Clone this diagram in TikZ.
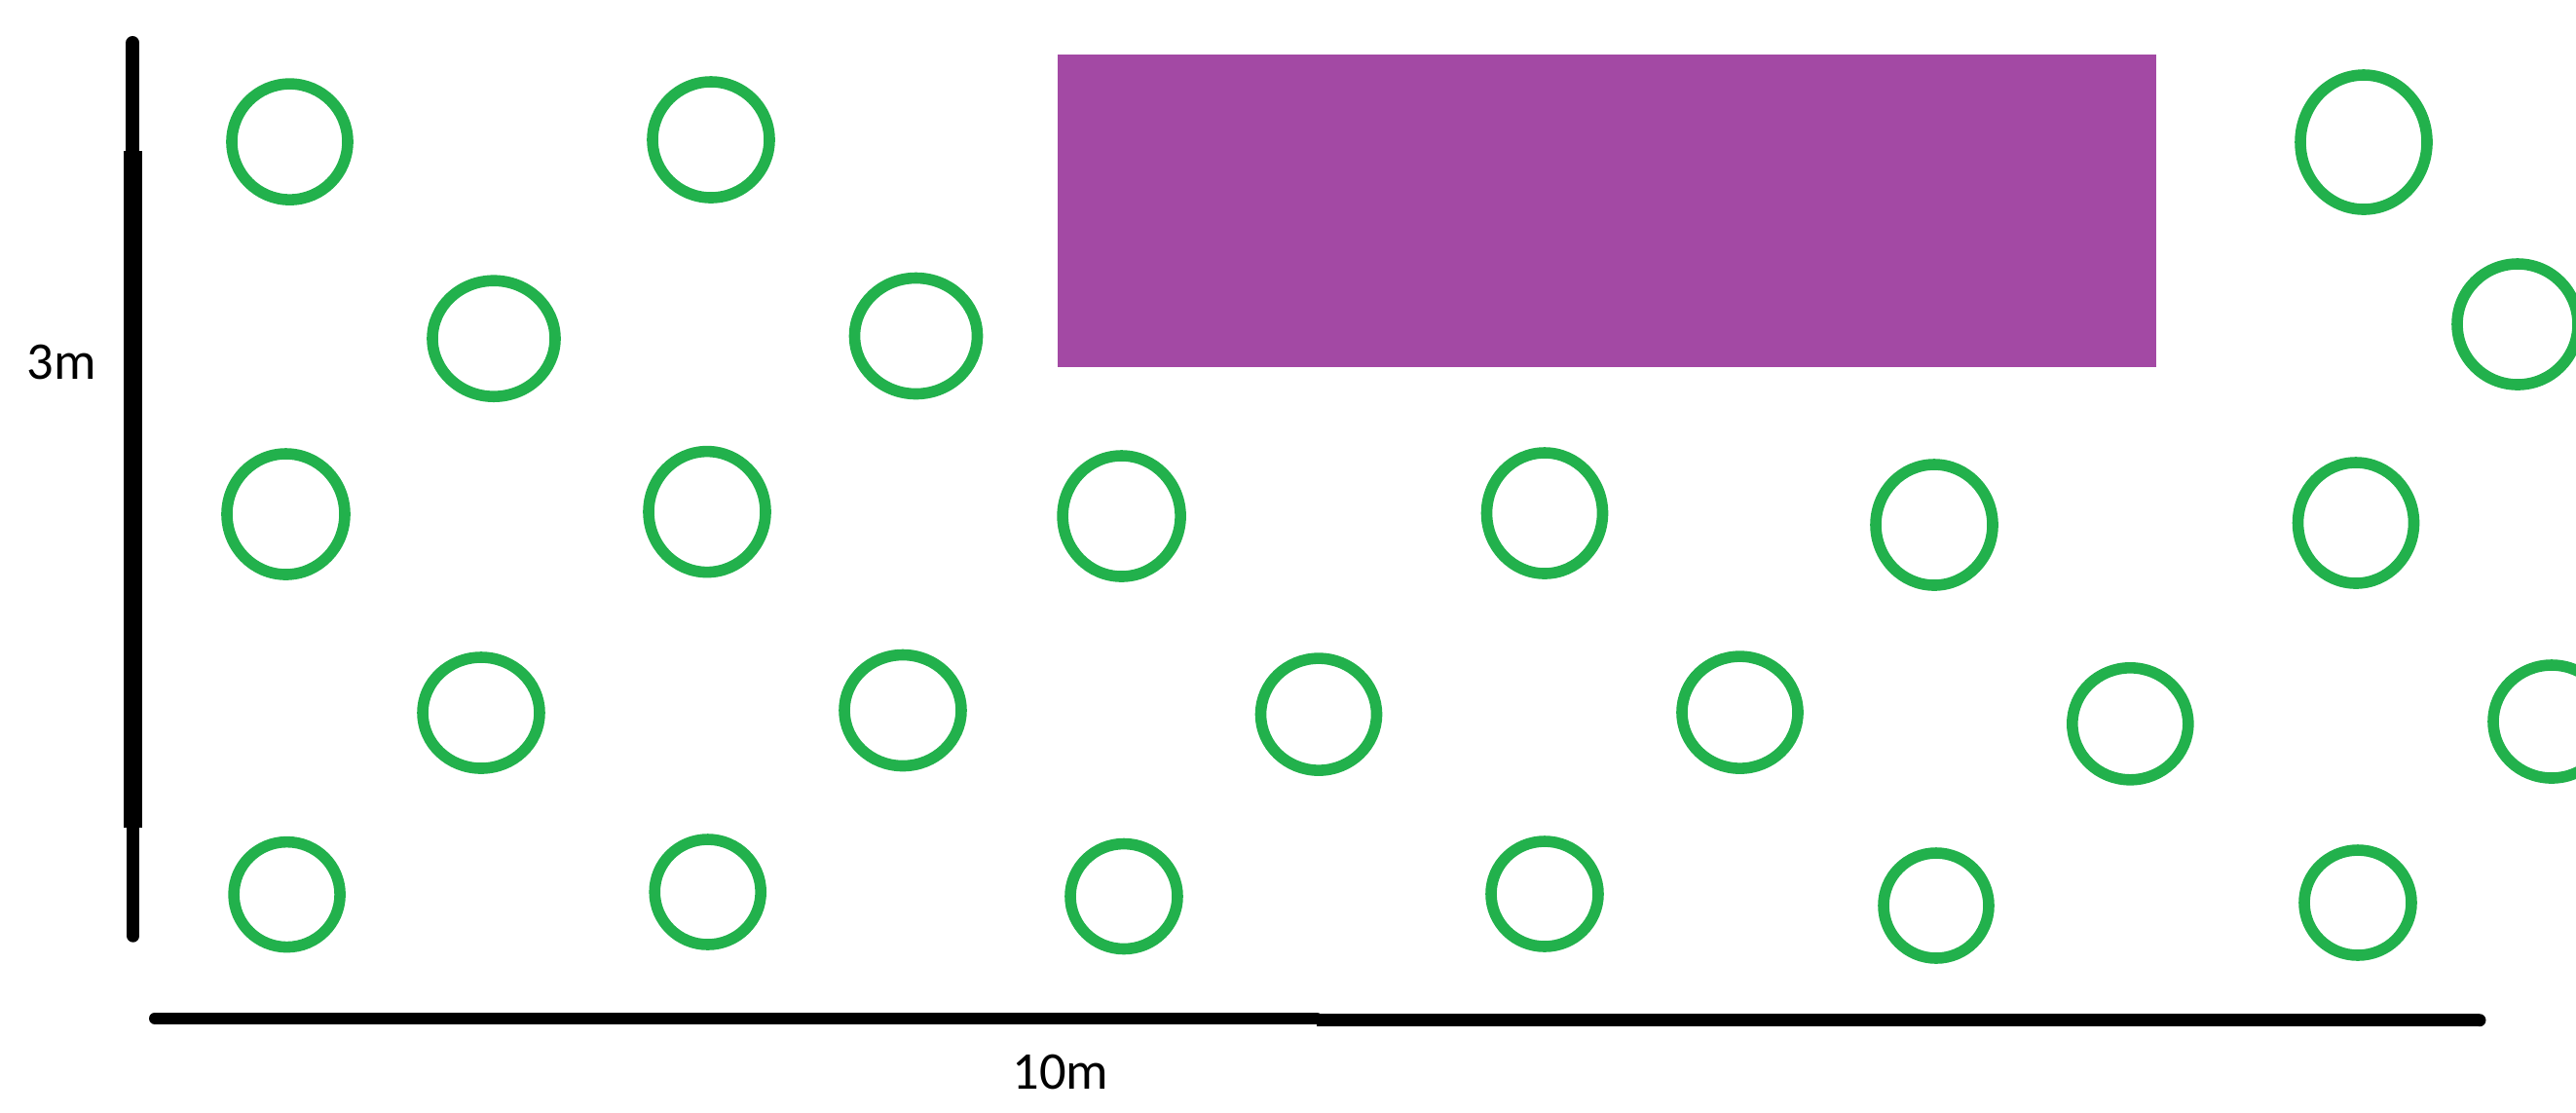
\documentclass[tikz,border=0pt]{standalone}
\usepackage{fontspec}
\setmainfont{Carlito}
\usetikzlibrary{positioning}
\definecolor{paintgreen}{HTML}{22B14C}
\definecolor{paintpurple}{HTML}{A349A4}
\tikzset{
  shrub/.style={draw=paintgreen, line width=3.3pt},
  ruler/.style={draw=black},
  dimlabel/.style={inner sep=0pt, font=\fontsize{15.5}{18}\selectfont}
}
\begin{document}
\begin{tikzpicture}[scale=0.1]
\useasboundingbox (0,0) rectangle (264.5,-114.2);
% bed
\fill [paintpurple] (108.6,-5.55) rectangle (221.4,-37.7);
% row 1
\draw [shrub] (29.75,-14.56) ellipse (5.95 and 5.95);
\draw [shrub] (73.0,-14.35) ellipse (6.0 and 5.95);
\draw [shrub] (242.7,-14.6) ellipse (6.5 and 6.9);
% row 2
\draw [shrub] (50.7,-34.77) ellipse (6.3 and 5.95);
\draw [shrub] (94.05,-34.5) ellipse (6.3 and 5.95);
\draw [shrub] (258.5,-33.3) ellipse (6.2 and 6.2);
% row 3
\draw [shrub] (29.35,-52.8) ellipse (6.05 and 6.2);
\draw [shrub] (72.6,-52.56) ellipse (6.0 and 6.2);
\draw [shrub] (115.16,-53.0) ellipse (6.05 and 6.2);
\draw [shrub] (158.6,-52.7) ellipse (5.95 and 6.2);
\draw [shrub] (198.6,-53.9) ellipse (6.0 and 6.2);
\draw [shrub] (241.9,-53.7) ellipse (5.95 and 6.2);
% row 4
\draw [shrub] (49.4,-73.2) ellipse (6.0 and 5.7);
\draw [shrub] (92.7,-72.95) ellipse (6.0 and 5.7);
\draw [shrub] (135.4,-73.36) ellipse (5.95 and 5.75);
\draw [shrub] (178.65,-73.16) ellipse (5.95 and 5.75);
\draw [shrub] (218.73,-74.33) ellipse (5.95 and 5.75);
\draw [shrub] (262.0,-74.1) ellipse (6.0 and 5.8);
% row 5
\draw [shrub] (29.46,-91.86) ellipse (5.45 and 5.4);
\draw [shrub] (72.67,-91.6) ellipse (5.45 and 5.4);
\draw [shrub] (115.4,-92.05) ellipse (5.5 and 5.4);
\draw [shrub] (158.6,-91.8) ellipse (5.5 and 5.4);
\draw [shrub] (198.8,-93.0) ellipse (5.4 and 5.4);
\draw [shrub] (242.1,-92.7) ellipse (5.5 and 5.4);
% dimensions
\draw [ruler, line width=4pt, line cap=round] (13.63,-4.4) -- (13.63,-15.5);
\draw [ruler, line width=5.2pt] (13.65,-15.5) -- (13.65,-85.0);
\draw [ruler, line width=3.8pt, line cap=round] (13.67,-85.0) -- (13.67,-96.1);
\draw [ruler, line width=3.4pt, line cap=round] (15.9,-104.58) -- (135.2,-104.58);
\draw [ruler, line width=3.7pt] (135.2,-104.77) -- (254.6,-104.77);
\fill [black] (254.6,-104.77) circle (0.65);
\node [dimlabel] (height) at (6.3,-37.2) {3m};
\node [dimlabel] (width) at (108.9,-110.1) {10m};
\end{tikzpicture}
\end{document}
